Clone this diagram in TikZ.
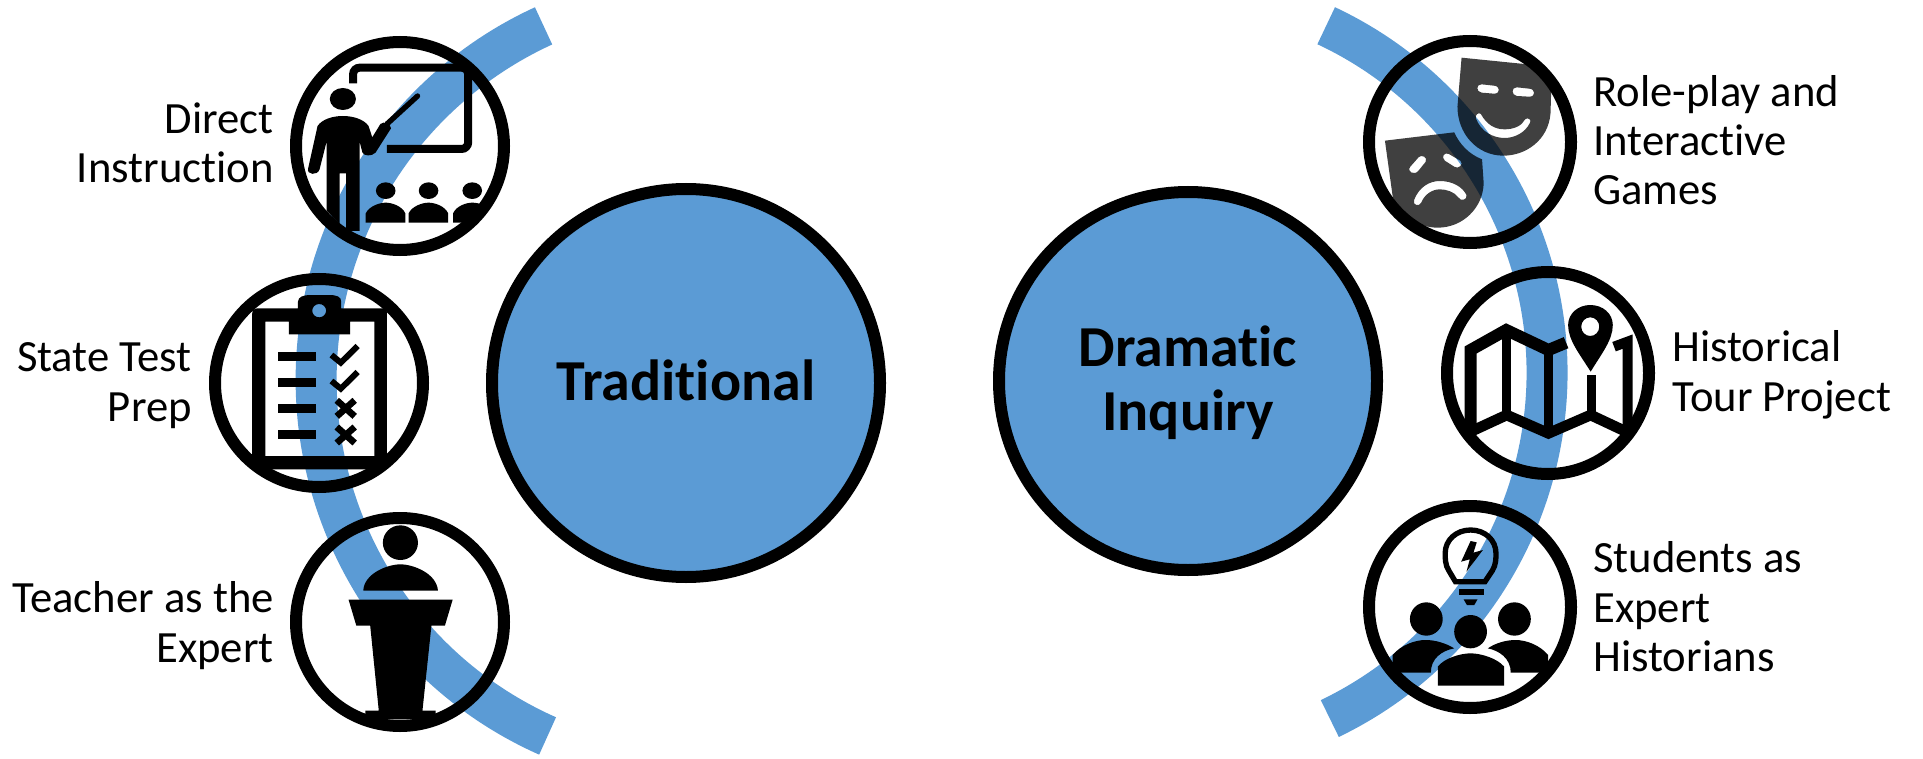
\documentclass[tikz,border=0pt]{standalone}
\usepackage{fontspec}
\setmainfont[Ligatures=NoCommon]{Carlito}
\begin{document}
\begin{tikzpicture}[x=0.75pt,y=-0.75pt,
  cropL/.style={x=0.30612pt,y=-0.25pt},
  cropR/.style={x=0.30738pt,y=-0.25pt},
  band/.style={draw=bandblue,line width=30.75pt,line cap=butt},
  bigdisc/.style={circle,draw=black,fill=bandblue,line width=9pt,inner sep=0pt,font=\fontsize{43.5}{48}\selectfont\bfseries,align=center},
  ringA/.style={circle,draw=black,line width=9pt,inner sep=0pt,minimum size=156pt},
  ringB/.style={circle,draw=black,line width=9pt,inner sep=0pt,minimum size=151.5pt},
  lab/.style={font=\fontsize{33.5}{37.1}\selectfont,inner sep=0pt},
  labL/.style={lab,align=right,anchor=base east},
  labR/.style={lab,align=left,anchor=base west},
  ink/.style={fill=black,draw=none},
  inkeo/.style={fill=black,draw=none,even odd rule},
  mask/.style={fill=black,fill opacity=.75,draw=none,even odd rule},
  stroke/.style={draw=black,line cap=butt,line join=miter},
]
\definecolor{bandblue}{HTML}{5B9BD5}
\useasboundingbox (0,0) rectangle (1923,759);
% bands
\draw[band] (705.7,380) ++(113.95:389.5) arc[start angle=113.95,end angle=245.4,radius=389.5];
\draw[band] (1163.5,373) ++(64.3:383.5) arc[start angle=64.3,end angle=-64.9,radius=383.5];
% main discs
\node[bigdisc,minimum size=291pt,text height=25.5pt,text depth=0pt] (trad) at (686,383) {Traditional};
\node[bigdisc,minimum size=283.5pt] (drama) at (1188,381) {\rule{0pt}{33pt}Dramatic\\Inquiry};
% rings
\node[ringA] (direct) at (400,146) {};
\node[ringA] (state) at (319,383) {};
\node[ringA] (expert) at (400,622) {};
\node[ringB] (role) at (1470,142) {};
\node[ringB] (tour) at (1548,373) {};
\node[ringB] (hist) at (1470,607) {};
% labels (anchored on the baseline of their last line)
\node[labL] (ldirect) at (274,183) {Direct\\Instruction};
\node[labL] (lstate) at (192,421) {State Test\\Prep};
\node[labL] (lexpert) at (274,662) {Teacher as the\\Expert};
\node[labR] (lrole) at (1593,205) {Role-play and\\Interactive\\Games};
\node[labR] (ltour) at (1672,411) {Historical\\Tour Project};
\node[labR] (lhist) at (1593,671.5) {Students as\\Expert\\Historians};
% teacher and class icon
\begin{scope}[cropL]
  \draw[stroke,line width=6pt,rounded corners=5pt] (865,250) -- (865,203) -- (1147,203) -- (1147,447) -- (948,447);
  \fill[ink] (840,297) ellipse[x radius=32,y radius=33];
  \fill[ink] (778,378) .. controls (800,338) and (880,338) .. (903,378) -- (912,412) -- (932,372) .. controls (940,362) and (958,372) .. (958,385) -- (920,458) .. controls (910,470) and (892,468) .. (888,458) -- (881,425) -- (881,693) -- (848,693) -- (848,520) -- (832,520) -- (832,672) -- (800,632) -- (800,425) -- (783,508) .. controls (778,528) and (750,525) .. (755,505) -- cycle;
  \draw[line width=4pt,line cap=round] (948,372) -- (1023,288);
  \foreach \cx in {945,1050,1157} \fill[ink] (\cx,572) ellipse[x radius=24,y radius=25];
  \foreach \cx in {945,1050} \fill[ink] (\cx-49,668) -- (\cx-49,640) .. controls (\cx-40,618) and (\cx-15,608) .. (\cx,608) .. controls (\cx+15,608) and (\cx+40,618) .. (\cx+48,640) -- (\cx+48,668) -- cycle;
  \fill[ink] (1110,668) -- (1110,640) .. controls (1118,618) and (1142,608) .. (1157,608) .. controls (1165,608) and (1175,610) .. (1185,616) -- (1140,668) -- cycle;
  % clipboard
  \fill[inkeo] (630,925) -- (730,925) -- (730,905) .. controls (730,890) and (745,885) .. (760,885) -- (806,885) .. controls (825,885) and (836,890) .. (836,905) -- (836,925) -- (935,925) .. controls (943,925) and (948,930) .. (948,940) -- (948,1395) -- (935,1408) -- (632,1408) -- (618,1395) -- (618,940) .. controls (618,930) and (623,925) .. (630,925) -- cycle
    (650,965) -- (708,965) -- (708,1003) -- (858,1003) -- (858,965) -- (917,965) -- (917,1368) -- (650,1368) -- cycle
    (782,932) ellipse[x radius=17,y radius=20];
  \foreach \yy in {1055,1133,1212,1290} \fill[ink] (682,\yy) rectangle (773,\yy+27);
  \draw[stroke,line width=4.5pt] (812,1065) -- (835,1088) -- (876,1038);
  \draw[stroke,line width=4.5pt] (812,1143) -- (835,1166) -- (876,1116);
  \foreach \yy in {1225,1305} \draw[stroke,line width=5pt] (825,\yy-24) -- (869,\yy+24) (869,\yy-24) -- (825,\yy+24);
\end{scope}
% speaker at podium icon
\begin{scope}[shift={(0,380)},cropL]
  \fill[ink] (981,488) ellipse[x radius=43,y radius=52];
  \fill[ink] (890,632) .. controls (892,580) and (950,553) .. (981,553) .. controls (1012,553) and (1070,580) .. (1073,632) -- cycle;
  \fill[ink] (854,659) -- (1109,659) -- (1090,737) -- (1057,737) -- (1035,992) -- (1067,992) -- (1067,1018) -- (895,1018) -- (895,992) -- (928,992) -- (907,737) -- (873,737) -- cycle;
\end{scope}
% theatre masks icon
\begin{scope}[shift={(1280,0)},cropR]
  \fill[mask] (443,173) -- (620,195) -- (662,260) -- (660,340) .. controls (655,420) and (600,467) .. (545,467) .. controls (480,467) and (433,400) .. (433,320) -- cycle
    (492,253) -- (522,257) .. controls (538,258) and (538,282) .. (522,281) -- (492,278) .. controls (478,276) and (478,252) .. (492,253) -- cycle
    (578,262) -- (608,266) .. controls (624,267) and (624,291) .. (608,290) -- (578,288) .. controls (564,286) and (564,261) .. (578,262) -- cycle
    (490,342) .. controls (505,375) and (525,388) .. (548,388) .. controls (570,388) and (590,378) .. (598,358) .. controls (604,350) and (615,360) .. (610,368) .. controls (598,400) and (570,414) .. (548,414) .. controls (520,414) and (490,395) .. (478,355) .. controls (475,345) and (485,335) .. (490,342) -- cycle;
  \fill[mask] (256,422) -- (425,397) .. controls (438,432) and (460,462) .. (493,478) -- (497,550) .. controls (495,625) and (445,683) .. (385,683) .. controls (340,683) and (290,650) .. (275,590) -- cycle
    (338,472) -- (318,500) .. controls (308,515) and (328,528) .. (338,512) -- (355,486) .. controls (362,472) and (345,462) .. (338,472) -- cycle
    (412,462) -- (440,482) .. controls (450,492) and (435,510) .. (425,500) -- (402,482) .. controls (392,470) and (402,455) .. (412,462) -- cycle
    (327,600) .. controls (340,560) and (365,543) .. (390,543) .. controls (420,543) and (445,560) .. (455,585) .. controls (458,600) and (440,605) .. (435,592) .. controls (425,575) and (405,568) .. (390,568) .. controls (370,568) and (352,585) .. (345,607) .. controls (340,622) and (322,615) .. (327,600) -- cycle;
  % map icon
  \draw[stroke,line width=9pt] (465,1295) -- (465,1050) -- (552,990) -- (655,1050) -- (698,1028);
  \draw[stroke,line width=8pt] (465,1295) -- (553,1245) -- (655,1300) -- (758,1245) -- (848,1297);
  \draw[stroke,line width=7pt] (553,985) -- (553,1245);
  \draw[stroke,line width=7pt] (655,1050) -- (655,1300);
  \draw[stroke,line width=7pt] (760,1125) -- (760,1245);
  \draw[stroke,line width=7.5pt] (815,1040) -- (848,1025) -- (848,1297);
  \fill[inkeo] (758,1115) .. controls (730,1060) and (703,1020) .. (703,975) .. controls (703,940) and (728,915) .. (757,915) .. controls (787,915) and (812,940) .. (812,975) .. controls (812,1020) and (785,1060) .. (758,1115) -- cycle
    (757,980) ellipse[x radius=22,y radius=28];
\end{scope}
% students with idea icon
\begin{scope}[shift={(1280,380)},cropR]
  \draw[stroke,line width=4pt] (428,605) -- (412,572) .. controls (403,555) and (403,535) .. (403,520) .. controls (403,480) and (430,450) .. (465,450) .. controls (500,450) and (527,480) .. (527,520) .. controls (527,535) and (527,555) .. (518,572) -- (500,605) -- cycle;
  \fill[ink] (437,627) rectangle (497,645);
  \fill[ink] (448,658) -- (482,658) -- (474,675) -- (456,675) -- cycle;
  \fill[ink] (465,483) -- (442,545) -- (463,538) -- (455,575) -- (495,510) -- (472,518) -- (480,487) -- cycle;
  \fill[ink] (357,717) ellipse[x radius=40,y radius=50];
  \fill[ink] (572,717) ellipse[x radius=40,y radius=50];
  \fill[ink] (465,755) ellipse[x radius=40,y radius=50];
  \fill[ink] (385,917) -- (385,860) .. controls (400,835) and (440,820) .. (465,820) .. controls (490,820) and (530,835) .. (547,860) -- (547,917) -- cycle;
  \fill[ink] (275,878) -- (275,825) .. controls (295,795) and (330,780) .. (355,780) .. controls (380,780) and (405,790) .. (425,805) .. controls (395,812) and (368,835) .. (368,878) -- cycle;
  \fill[ink] (654,878) -- (654,825) .. controls (634,795) and (600,780) .. (575,780) .. controls (550,780) and (525,790) .. (507,805) .. controls (535,812) and (563,835) .. (563,878) -- cycle;
\end{scope}
\end{tikzpicture}
\end{document}
